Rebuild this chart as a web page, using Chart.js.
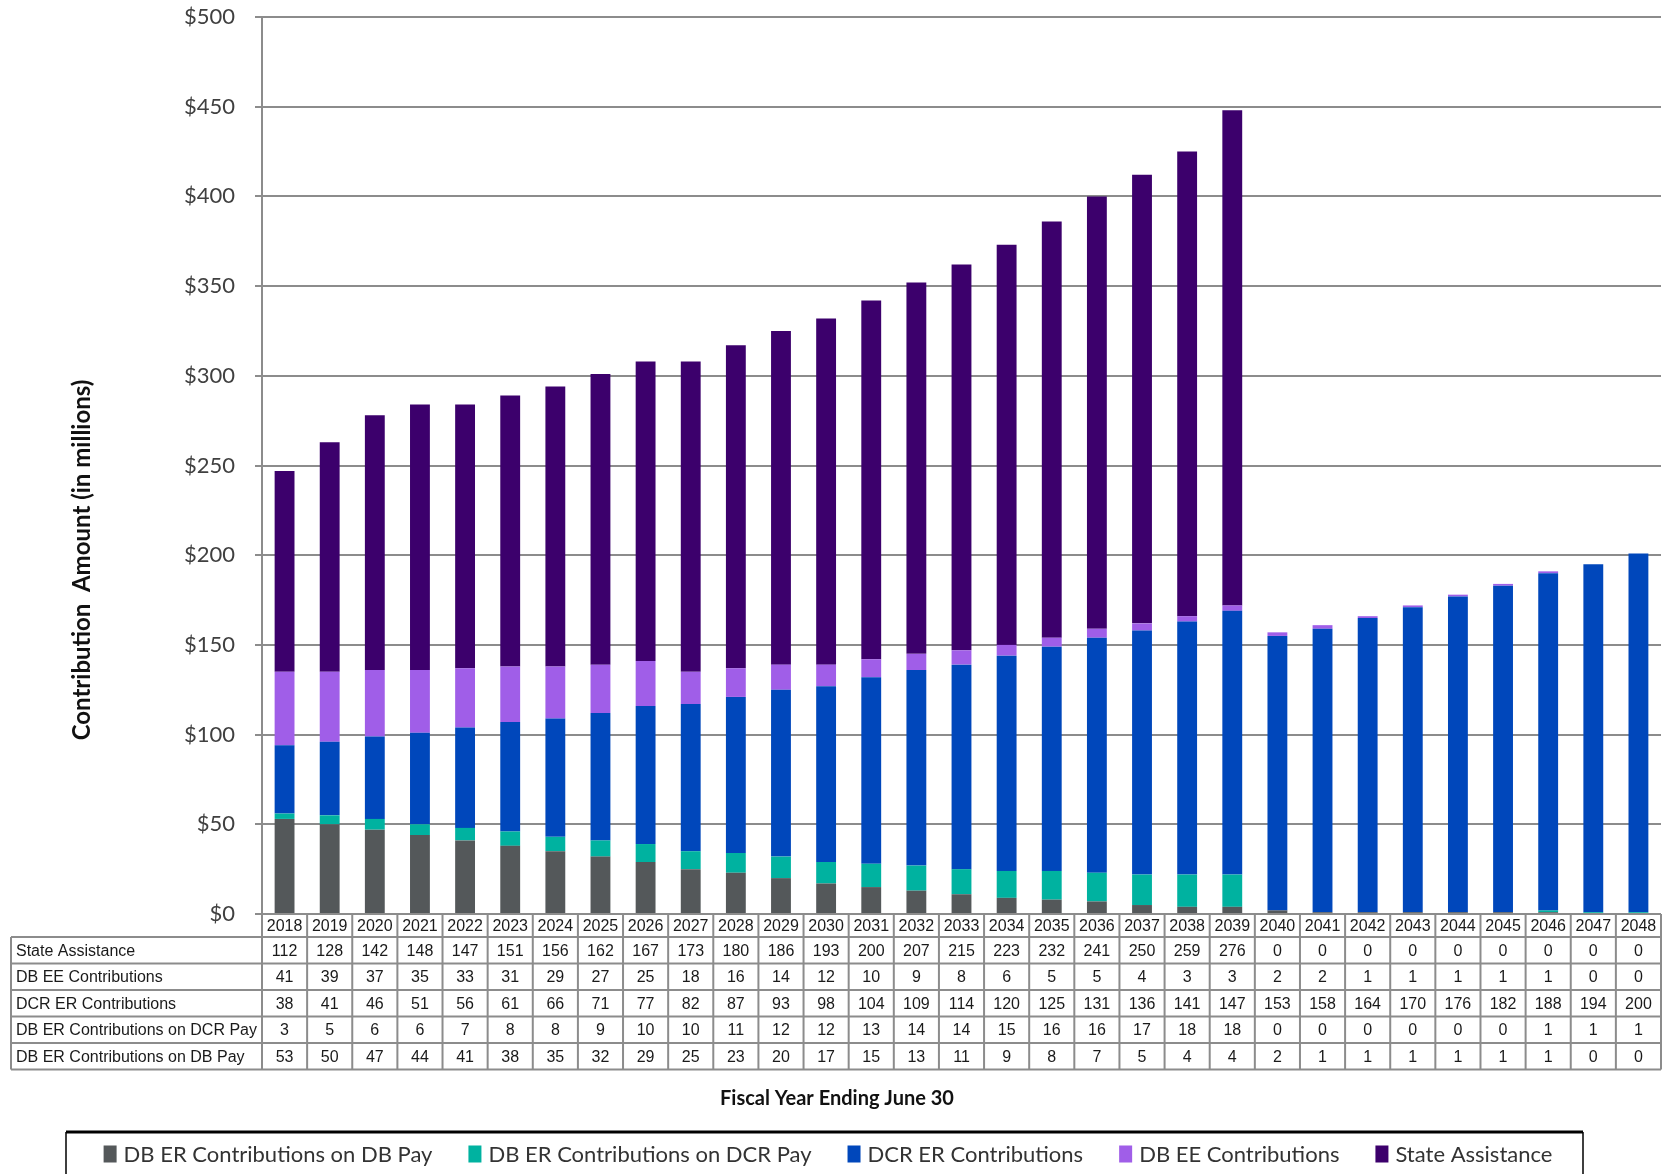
<!DOCTYPE html>
<html lang="en">
<head>
<meta charset="UTF-8">
<title>Contribution Amount</title>
<style>
  body { margin: 0; background: #fff; }
  canvas { display: block; }
</style>
</head>
<body>
<canvas id="myChart" width="1666" height="1174"></canvas>
<script src="https://cdn.jsdelivr.net/npm/chart.js@4.4.0/dist/chart.umd.min.js"></script>
<script>
    // fiscal years (table header row)
    var years = ['2018', '2019', '2020', '2021', '2022', '2023', '2024', '2025', '2026', '2027', '2028',
        '2029', '2030', '2031', '2032', '2033', '2034', '2035', '2036', '2037', '2038', '2039',
        '2040', '2041', '2042', '2043', '2044', '2045', '2046', '2047', '2048'];

    // values in $ millions
    var stateAssistance = [112, 128, 142, 148, 147, 151, 156, 162, 167, 173, 180, 186, 193, 200, 207, 215,
        223, 232, 241, 250, 259, 276, 0, 0, 0, 0, 0, 0, 0, 0, 0];
    var dbEE = [41, 39, 37, 35, 33, 31, 29, 27, 25, 18, 16, 14, 12, 10, 9, 8, 6, 5, 5, 4, 3, 3,
        2, 2, 1, 1, 1, 1, 1, 0, 0];
    var dcrER = [38, 41, 46, 51, 56, 61, 66, 71, 77, 82, 87, 93, 98, 104, 109, 114, 120, 125, 131, 136, 141, 147,
        153, 158, 164, 170, 176, 182, 188, 194, 200];
    var dbErDcrPay = [3, 5, 6, 6, 7, 8, 8, 9, 10, 10, 11, 12, 12, 13, 14, 14, 15, 16, 16, 17, 18, 18,
        0, 0, 0, 0, 0, 0, 1, 1, 1];
    var dbErDbPay = [53, 50, 47, 44, 41, 38, 35, 32, 29, 25, 23, 20, 17, 15, 13, 11, 9, 8, 7, 5, 4, 4,
        2, 1, 1, 1, 1, 1, 1, 0, 0];

    var yTicks = [0, 50, 100, 150, 200, 250, 300, 350, 400, 450, 500];

    var gridGray = '#8c8c8c';

    // draws the data table, axis titles and the boxed legend
    var extras = {
        id: 'extras',
        afterDraw: function (chart) {
            var ctx = chart.ctx;
            var xs = chart.scales.x;
            var area = chart.chartArea;
            var colW = xs.getPixelForValue(1) - xs.getPixelForValue(0);
            var tableLeft = 11;
            var yearTop = area.bottom;
            var yearH = 23;
            var rowH = 26.5;
            var rowsTop = yearTop + yearH;
            var sets = chart.data.datasets.slice().reverse();
            var tableBottom = rowsTop + rowH * sets.length;

            ctx.save();
            ctx.strokeStyle = gridGray;
            ctx.lineWidth = 2;
            ctx.beginPath();
            // header row bottom + row lines
            for (var r = 0; r <= sets.length; r++) {
                var yy = rowsTop + r * rowH;
                ctx.moveTo(tableLeft, yy);
                ctx.lineTo(area.right, yy);
            }
            ctx.moveTo(tableLeft, rowsTop);
            ctx.lineTo(tableLeft, tableBottom);
            for (var i = 0; i <= years.length; i++) {
                var xx = xs.getPixelForValue(0) - colW / 2 + i * colW;
                ctx.moveTo(xx, yearTop);
                ctx.lineTo(xx, tableBottom);
            }
            ctx.stroke();

            ctx.fillStyle = '#1a1a1a';
            ctx.font = '16px "Liberation Sans", Arial, sans-serif';
            ctx.textBaseline = 'middle';
            ctx.textAlign = 'center';
            years.forEach(function (yr, i) {
                ctx.fillText(yr, xs.getPixelForValue(i), yearTop + yearH / 2 + 1);
            });
            sets.forEach(function (ds, r) {
                var cy = rowsTop + r * rowH + rowH / 2 + 1;
                ctx.textAlign = 'left';
                ctx.fillText(ds.label, tableLeft + 5, cy);
                ctx.textAlign = 'center';
                ds.data.forEach(function (v, i) {
                    ctx.fillText(String(v), xs.getPixelForValue(i), cy);
                });
            });

            // axis titles
            ctx.fillStyle = '#111';
            ctx.font = 'bold 24px Lato, sans-serif';
            ctx.save();
            ctx.translate(82, 560);
            ctx.rotate(-Math.PI / 2);
            ctx.textAlign = 'center';
            ctx.fillText('Contribution  Amount (in millions)', 0, 0);
            ctx.restore();
            ctx.font = 'bold 20px Lato, sans-serif';
            ctx.textAlign = 'center';
            ctx.fillText('Fiscal Year Ending June 30', 837, 1099);

            // legend frame
            ctx.strokeStyle = '#000';
            ctx.lineWidth = 3;
            ctx.beginPath();
            ctx.moveTo(66, 1132);
            ctx.lineTo(1583, 1132);
            ctx.stroke();
            ctx.lineWidth = 1.5;
            ctx.beginPath();
            ctx.moveTo(66, 1132);
            ctx.lineTo(66, 1174);
            ctx.moveTo(1583, 1132);
            ctx.lineTo(1583, 1174);
            ctx.stroke();

            // legend items
            ctx.font = '22px Lato, sans-serif';
            ctx.textAlign = 'left';
            var boxW = 13, boxH = 17, gapBox = 7, gapItem = 36;
            var items = chart.data.datasets;
            var total = 0;
            items.forEach(function (ds, i) {
                total += boxW + gapBox + ctx.measureText(ds.label).width;
                if (i > 0) total += gapItem;
            });
            var lx = 828 - total / 2;
            var ly = 1154;
            items.forEach(function (ds) {
                ctx.fillStyle = ds.backgroundColor;
                ctx.fillRect(lx, ly - boxH / 2, boxW, boxH);
                lx += boxW + gapBox;
                ctx.fillStyle = '#333';
                ctx.fillText(ds.label, lx, ly + 1);
                lx += ctx.measureText(ds.label).width + gapItem;
            });
            ctx.restore();
        }
    };

    var ctx = document.getElementById('myChart').getContext('2d');
    var myChart = new Chart(ctx, {
        type: 'bar',
        data: {
            labels: years,
            datasets: [
                { label: 'DB ER Contributions on DB Pay', data: dbErDbPay, backgroundColor: '#54585a' },
                { label: 'DB ER Contributions on DCR Pay', data: dbErDcrPay, backgroundColor: '#00b2a0' },
                { label: 'DCR ER Contributions', data: dcrER, backgroundColor: '#0047bb' },
                { label: 'DB EE Contributions', data: dbEE, backgroundColor: '#a05ee8' },
                { label: 'State Assistance', data: stateAssistance, backgroundColor: '#3c006c' }
            ]
        },
        options: {
            responsive: false,
            animation: false,
            devicePixelRatio: 1,
            layout: { padding: { top: 17, right: 5, left: 0, bottom: 0 } },
            datasets: { bar: { categoryPercentage: 0.88, barPercentage: 0.5, borderWidth: 0 } },
            plugins: {
                legend: { display: false },
                tooltip: { enabled: false }
            },
            scales: {
                x: {
                    stacked: true,
                    grid: { display: false },
                    border: { display: false },
                    ticks: { display: false },
                    afterFit: function (scale) { scale.height = 260; }
                },
                y: {
                    stacked: true,
                    min: 0,
                    max: 500,
                    afterBuildTicks: function (scale) {
                        scale.ticks = yTicks.map(function (v) { return { value: v }; });
                    },
                    ticks: {
                        padding: 20,
                        color: '#404040',
                        font: { family: 'Lato', size: 22 },
                        callback: function (v) { return '$' + v; }
                    },
                    grid: { color: gridGray, lineWidth: 2, tickLength: 7 },
                    border: { color: gridGray, width: 2 },
                    afterFit: function (scale) {
                        scale.width = 262;
                        scale.paddingTop = 13;
                        scale.paddingBottom = 13;
                    }
                }
            }
        },
        plugins: [extras]
    });
</script>
</body>
</html>
